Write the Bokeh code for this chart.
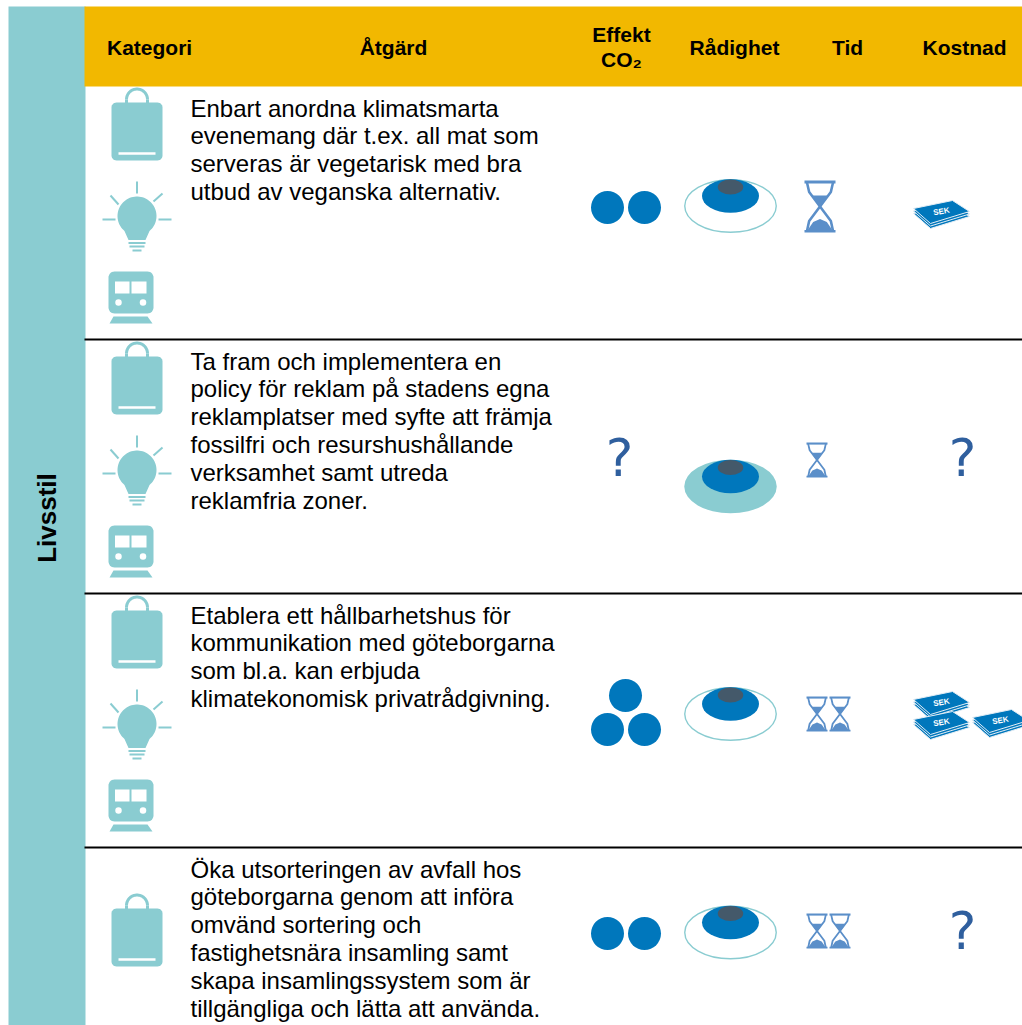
import numpy as np
from bokeh.plotting import figure
from bokeh.models import Range1d
from bokeh.core.properties import value
from bokeh.embed import file_html
from bokeh.resources import INLINE

# ---------- data ----------
side_label = "Livsstil"
headers = ["Kategori", "Åtgärd", "Rådighet", "Tid", "Kostnad"]
header_effect = ["Effekt", "CO₂"]
categories = [["bag", "bulb", "train"], ["bag", "bulb", "train"], ["bag", "bulb", "train"], ["bag"]]
actions = [
    ["Enbart anordna klimatsmarta", "evenemang där t.ex. all mat som", "serveras är vegetarisk med bra", "utbud av veganska alternativ."],
    ["Ta fram och implementera en", "policy för reklam på stadens egna", "reklamplatser med syfte att främja",
     "fossilfri och resurshushållande", "verksamhet samt utreda", "reklamfria zoner."],
    ["Etablera ett hållbarhetshus för", "kommunikation med göteborgarna", "som bl.a. kan erbjuda", "klimatekonomisk privatrådgivning."],
    ["Öka utsorteringen av avfall hos", "göteborgarna genom att införa", "omvänd sortering och",
     "fastighetsnära insamling samt", "skapa insamlingssystem som är", "tillgängliga och lätta att använda."],
]
effect = [2, None, 3, 2]          # number of dots, None = "?"
radighet = [1, 2, 1, 1]           # 1 = outlined outer ring, 2 = filled outer ring
tid = [1, 1, 2, 2]                # hourglasses
kostnad = [1, None, 3, None]      # money stacks, None = "?"

# ---------- palette / layout ----------
TEAL, GOLD, BLUE, DARK = "#8ACCD1", "#F2B800", "#0077BC", "#44596A"
HG, QM = "#5B8FC9", "#2F5F9E"
FONT = value("Liberation Sans")
p = figure(width=1022, height=1025, x_range=Range1d(0, 1022), y_range=Range1d(1025, 0),
           output_backend="svg", toolbar_location=None, min_border=0, outline_line_color=None,
           x_axis_location=None, y_axis_location=None)
p.xgrid.visible = False
p.ygrid.visible = False
p.background_fill_color = "white"
p.border_fill_color = "white"

def rrect(x0, y0, x1, y1, r):
    t = np.linspace(0, np.pi / 2, 8)
    xs = np.r_[x1 - r + r * np.sin(t), x1 - r + r * np.cos(t), x0 + r - r * np.sin(t), x0 + r - r * np.cos(t)]
    ys = np.r_[y0 + r - r * np.cos(t), y1 - r + r * np.sin(t), y1 - r + r * np.cos(t), y0 + r - r * np.sin(t)]
    return xs, ys

def line(xs, ys, w=2, c=TEAL):
    p.line(list(xs), list(ys), line_color=c, line_width=w)

def draw_bag(dy):
    p.patch(*rrect(111, 102 + dy, 162, 160 + dy, 5), fill_color=TEAL, line_color=None)
    t = np.linspace(np.pi, 2 * np.pi, 30)
    line(136.5 + 10.5 * np.cos(t), 99 + dy + 10.5 * np.sin(t), 3)
    line([126, 126], [99 + dy, 103 + dy], 3)
    line([147, 147], [99 + dy, 103 + dy], 3)
    line([118, 155], [153 + dy, 153 + dy], 2.5, "white")

def draw_bulb(dy):
    cx, cy, r = 136.5, 215.5 + dy, 19.5
    t = np.linspace(np.radians(-50), np.radians(230), 60)
    xs = np.r_[cx + r * np.cos(t), cx - 8.5, cx + 8.5]
    ys = np.r_[cy - r * np.sin(t), cy + 24, cy + 24]
    p.patch(xs, ys, fill_color=TEAL, line_color=None)
    for (x0, y0, x1, y1) in [(136.5, 181, 136.5, 193), (110, 195, 118, 204), (162, 193, 153, 201), (102, 219, 115, 219), (158, 219, 171, 219)]:
        line([x0, x1], [y0 + dy, y1 + dy], 2)
    for y, hw in [(242.5, 8.5), (246, 7.5), (250, 4.5)]:
        line([cx - hw, cx + hw], [y + dy, y + dy], 2.2)

def draw_train(dy):
    p.patch(*rrect(108, 271 + dy, 153, 313 + dy, 6), fill_color=TEAL, line_color=None)
    p.quad(left=[114.5, 131], right=[129, 146], top=[281 + dy] * 2, bottom=[293 + dy] * 2, fill_color="white", line_color=None)
    p.scatter([118, 142.5], [302 + dy] * 2, size=6.5, fill_color="white", line_color=None)
    p.patch([113, 147, 152, 109], [316 + dy, 316 + dy, 323 + dy, 323 + dy], fill_color=TEAL, line_color=None)

ICONS = {"bag": draw_bag, "bulb": draw_bulb, "train": draw_train}

def draw_money(dx, dy):
    cx = np.array([913, 952, 969, 930]) + dx
    cy = np.array([208, 200, 211, 223]) + dy
    for off in (5, 2.5, 0):
        p.patch(cx, cy + off, fill_color=BLUE, line_color="#E4EEF6", line_width=1)
    p.text([941 + dx], [211 + dy], text=["SEK"], angle=0.17, text_align="center", text_baseline="middle",
           text_color="white", text_font=FONT, text_font_style="bold", text_font_size=value("8px"))

def draw_hourglass(x, y, w, h):
    def X(u): return x + np.array(u) * w
    def Y(v): return y + np.array(v) * h
    lw = max(1.8, w / 12)
    p.quad(left=[x], right=[x + w], top=[y], bottom=[y + h * 0.06], fill_color=HG, line_color=None)
    p.quad(left=[x], right=[x + w], top=[y + h * 0.95], bottom=[y + h], fill_color=HG, line_color=None)
    p.line(X([.08, .15, .5, .85, .92]), Y([.04, .22, .5, .78, .97]), line_color=HG, line_width=lw)
    p.line(X([.92, .85, .5, .15, .08]), Y([.04, .22, .5, .78, .97]), line_color=HG, line_width=lw)
    p.patch(X([.24, .76, .5]), Y([.29, .29, .52]), fill_color=HG, line_color=None)
    p.patch(X([.08, .28, .5, .72, .92]), Y([.97, .8, .74, .8, .97]), fill_color=HG, line_color=None)

def qmark(x, y):
    p.text([x], [y], text=["?"], text_align="center", text_baseline="middle", text_color=QM,
           text_font=value("DejaVu Sans"), text_font_size=value("52px"))

# ---------- frame ----------
p.quad(left=[8], right=[85], top=[6], bottom=[1025], fill_color=TEAL, line_color=None)
p.quad(left=[84], right=[1022], top=[6], bottom=[86], fill_color=GOLD, line_color=None)
for y in (339, 593, 847):
    p.line([84, 1022], [y, y], line_color="black", line_width=2)

p.text([46], [517.5], text=[side_label], angle=np.pi / 2, text_align="center", text_baseline="middle",
       text_color="black", text_font=FONT, text_font_style="bold", text_font_size=value("26px"))
hx = [106.5, 393, 734, 847, 964]
for i, (x, t) in enumerate(zip(hx, headers)):
    p.text([x], [46.5], text=[t], text_align="left" if i == 0 else "center", text_baseline="middle",
           text_color="black", text_font=FONT, text_font_style="bold", text_font_size=value("21px"))
for y, t in zip((33.5, 58.5), header_effect):
    p.text([621], [y], text=[t], text_align="center", text_baseline="middle",
           text_color="black", text_font=FONT, text_font_style="bold", text_font_size=value("21px"))

# ---------- rows ----------
row_dy = [0, 254, 508, 725]
text_top = [107.5, 360.5, 614.5, 868.5]
for r in range(4):
    dy = row_dy[r]
    if len(categories[r]) == 1:
        ICONS[categories[r][0]](806)
    else:
        for c in categories[r]:
            ICONS[c](dy)
    for i, t in enumerate(actions[r]):
        p.text([190], [text_top[r] + i * 27.8], text=[t], text_align="left", text_baseline="middle",
               text_color="black", text_font=FONT, text_font_size=value("24px"))

# effect
eff_y = [207, None, 729, 933]
for r, n in enumerate(effect):
    if n is None:
        qmark(619, 457)
    else:
        xs = [607, 644] + ([625] if n == 3 else [])
        ys = [eff_y[r]] * 2 + ([eff_y[r] - 34] if n == 3 else [])
        p.ellipse(xs, ys, width=33, height=33, fill_color=BLUE, line_color=None)

# rådighet
rad_y = [205.5, 486, 713.5, 932]
for r, kind in enumerate(radighet):
    y = rad_y[r]
    if kind == 2:
        p.ellipse([730], [y], width=92.5, height=53.5, fill_color=TEAL, line_color=None)
    else:
        p.ellipse([730], [y], width=91.5, height=52.5, fill_color="white", line_color=TEAL, line_width=1.4)
    p.ellipse([730], [y - 10], width=57, height=33.5, fill_color=BLUE, line_color=None)
    p.ellipse([730], [y - 19], width=25.5, height=15, fill_color=DARK, line_color=None)

# tid
tid_y = [180, 442, 696, 913]
for r, n in enumerate(tid):
    if r == 0:
        draw_hourglass(804, tid_y[r], 31, 52)
    else:
        for k in range(n):
            draw_hourglass(806 + 23 * k, tid_y[r], 21, 35)

# kostnad
for r, n in enumerate(kostnad):
    if n is None:
        qmark(962, 457 if r == 1 else 930)
    elif n == 1:
        draw_money(0, 0)
    else:
        draw_money(0, 491)
        draw_money(0, 511)
        draw_money(59, 509)

open("out.html", "w").write(file_html(p, INLINE))
